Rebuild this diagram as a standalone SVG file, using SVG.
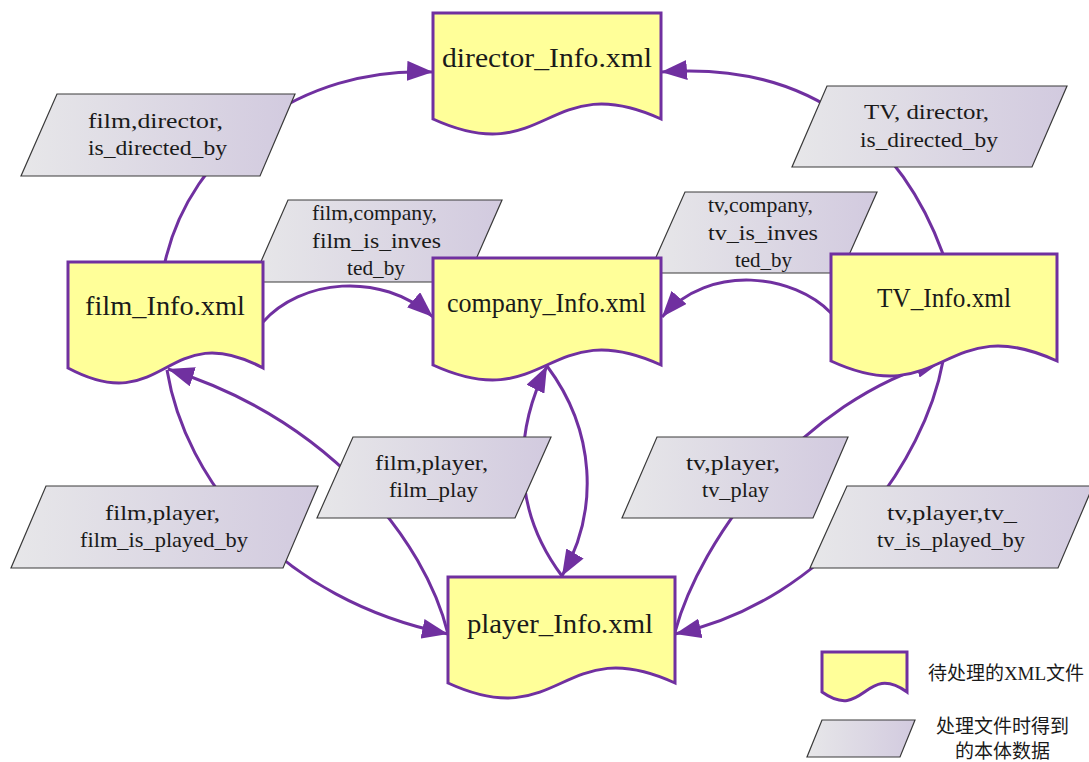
<svg xmlns="http://www.w3.org/2000/svg" width="1089" height="762" viewBox="0 0 1089 762">
  <style>
    .doc{fill:#FFFF99;stroke:#7030A0;stroke-width:3;stroke-linejoin:miter}
    .data{fill:url(#dataFill);stroke:#3a3a3a;stroke-width:1.2}
    .edge{fill:none;stroke:#7030A0;stroke-width:3}
    .arrow{marker-end:url(#head)}
    .lbl{font-family:"Liberation Serif",serif;fill:#1a1a1a;text-anchor:middle}
    .dl{font-size:27px}
    .pl{font-size:22px}
    .cn{font-family:"Liberation Serif","Noto Sans CJK SC",sans-serif;font-size:19px;fill:#1a1a1a;text-anchor:middle}
  </style>
  <defs>
    <linearGradient id="dataFill" x1="0" y1="0" x2="1" y2="0">
      <stop offset="0" stop-color="#E7E7E9"/>
      <stop offset="1" stop-color="#D2CADF"/>
    </linearGradient>
    <marker id="head" markerUnits="userSpaceOnUse" markerWidth="26" markerHeight="20" refX="26" refY="10" orient="auto">
      <path d="M0,0 L26,10 L0,20 Z" fill="#7030A0"/>
    </marker>
  </defs>

  <!-- connectors (drawn first so the data boxes and documents sit above them) -->
  <g id="connectors">
    <path class="edge arrow" d="M165,262 C190,150 300,66 433,72"/>
    <path class="edge arrow" d="M943,254 C905,150 820,60 661,72"/>
    <path class="edge arrow" d="M263,322 C300,280 380,270 433,317"/>
    <path class="edge arrow" d="M831,313 C795,275 710,262 662,317"/>
    <path class="edge arrow" d="M562,576 C505,500 520,420 547,366"/>
    <path class="edge arrow" d="M547,366 C595,430 600,510 562,576"/>
    <path class="edge arrow" d="M448,634 C425,540 330,420 168,369"/>
    <path class="edge arrow" d="M167,370 C185,480 280,600 448,634"/>
    <path class="edge arrow" d="M675,632 C700,540 800,400 942,361"/>
    <path class="edge arrow" d="M943,361 C925,460 830,600 675,634"/>
  </g>

  <!-- ontology data extracted while processing -->
  <g id="data-film-director">
    <polygon class="data" points="57,94 295,94 260,176 21,176"/>
    <text class="lbl pl" x="155.5" y="128" textLength="135" lengthAdjust="spacingAndGlyphs">film,director,</text>
    <text class="lbl pl" x="157.5" y="155" textLength="139" lengthAdjust="spacingAndGlyphs">is_directed_by</text>
  </g>
  <g id="data-tv-director">
    <polygon class="data" points="827,86 1067,86 1032,167 792,167"/>
    <text class="lbl pl" x="926.5" y="119" textLength="125" lengthAdjust="spacingAndGlyphs">TV, director,</text>
    <text class="lbl pl" x="929" y="147" textLength="138" lengthAdjust="spacingAndGlyphs">is_directed_by</text>
  </g>
  <g id="data-film-company">
    <polygon class="data" points="288,200 502,200 466,282 252,282"/>
    <text class="lbl pl" x="374.5" y="220" textLength="125" lengthAdjust="spacingAndGlyphs">film,company,</text>
    <text class="lbl pl" x="376.5" y="248" textLength="129" lengthAdjust="spacingAndGlyphs">film_is_inves</text>
    <text class="lbl pl" x="376" y="275" textLength="58" lengthAdjust="spacingAndGlyphs">ted_by</text>
  </g>
  <g id="data-tv-company">
    <polygon class="data" points="685,192 877,192 841,273 649,273"/>
    <text class="lbl pl" x="760.5" y="212" textLength="105" lengthAdjust="spacingAndGlyphs">tv,company,</text>
    <text class="lbl pl" x="763" y="240" textLength="110" lengthAdjust="spacingAndGlyphs">tv_is_inves</text>
    <text class="lbl pl" x="763.5" y="267" textLength="57" lengthAdjust="spacingAndGlyphs">ted_by</text>
  </g>
  <g id="data-film-play">
    <polygon class="data" points="353,437 551,437 515,518 317,518"/>
    <text class="lbl pl" x="431.5" y="470" textLength="113" lengthAdjust="spacingAndGlyphs">film,player,</text>
    <text class="lbl pl" x="433.5" y="497" textLength="89" lengthAdjust="spacingAndGlyphs">film_play</text>
  </g>
  <g id="data-tv-play">
    <polygon class="data" points="657,437 848,437 813,518 622,518"/>
    <text class="lbl pl" x="733" y="470" textLength="94" lengthAdjust="spacingAndGlyphs">tv,player,</text>
    <text class="lbl pl" x="735.5" y="497" textLength="67" lengthAdjust="spacingAndGlyphs">tv_play</text>
  </g>
  <g id="data-film-played-by">
    <polygon class="data" points="46,486 318,486 283,568 11,568"/>
    <text class="lbl pl" x="162.5" y="520" textLength="115" lengthAdjust="spacingAndGlyphs">film,player,</text>
    <text class="lbl pl" x="164" y="547" textLength="168" lengthAdjust="spacingAndGlyphs">film_is_played_by</text>
  </g>
  <g id="data-tv-played-by">
    <polygon class="data" points="847,486 1093,486 1058,568 810,568"/>
    <text class="lbl pl" x="952" y="520" textLength="130" lengthAdjust="spacingAndGlyphs">tv,player,tv_</text>
    <text class="lbl pl" x="951" y="547" textLength="148" lengthAdjust="spacingAndGlyphs">tv_is_played_by</text>
  </g>

  <!-- XML documents -->
  <g id="director-info">
    <path class="doc" d="M433,13 H661 V119 C547,67 547,171 433,119 Z"/>
    <text class="lbl dl" x="547" y="67" textLength="210" lengthAdjust="spacingAndGlyphs">director_Info.xml</text>
  </g>
  <g id="film-info">
    <path class="doc" d="M68,262 H263 V368 C165.5,316 165.5,420 68,368 Z"/>
    <text class="lbl dl" x="165" y="315" textLength="160" lengthAdjust="spacingAndGlyphs">film_Info.xml</text>
  </g>
  <g id="company-info">
    <path class="doc" d="M433,258 H661 V365 C547,313 547,417 433,365 Z"/>
    <text class="lbl dl" x="546.5" y="312" textLength="199" lengthAdjust="spacingAndGlyphs">company_Info.xml</text>
  </g>
  <g id="tv-info">
    <path class="doc" d="M831,254 H1057 V361 C944,309 944,413 831,361 Z"/>
    <text class="lbl dl" x="944" y="307" textLength="134" lengthAdjust="spacingAndGlyphs">TV_Info.xml</text>
  </g>
  <g id="player-info">
    <path class="doc" d="M448,577 H675 V683 C561.5,631 561.5,735 448,683 Z"/>
    <text class="lbl dl" x="560" y="633" textLength="186" lengthAdjust="spacingAndGlyphs">player_Info.xml</text>
  </g>

  <!-- legend -->
  <g id="legend">
    <path class="doc" d="M822,652 H907 V692 C864.5,662 864.5,722 822,692 Z"/>
    <text class="cn" x="1006" y="680">待处理的XML文件</text>
    <polygon class="data" points="822,720 915,720 900,757 807,757"/>
    <text class="cn" x="1002.5" y="733">处理文件时得到</text>
    <text class="cn" x="1002.5" y="758">的本体数据</text>
  </g>
</svg>
